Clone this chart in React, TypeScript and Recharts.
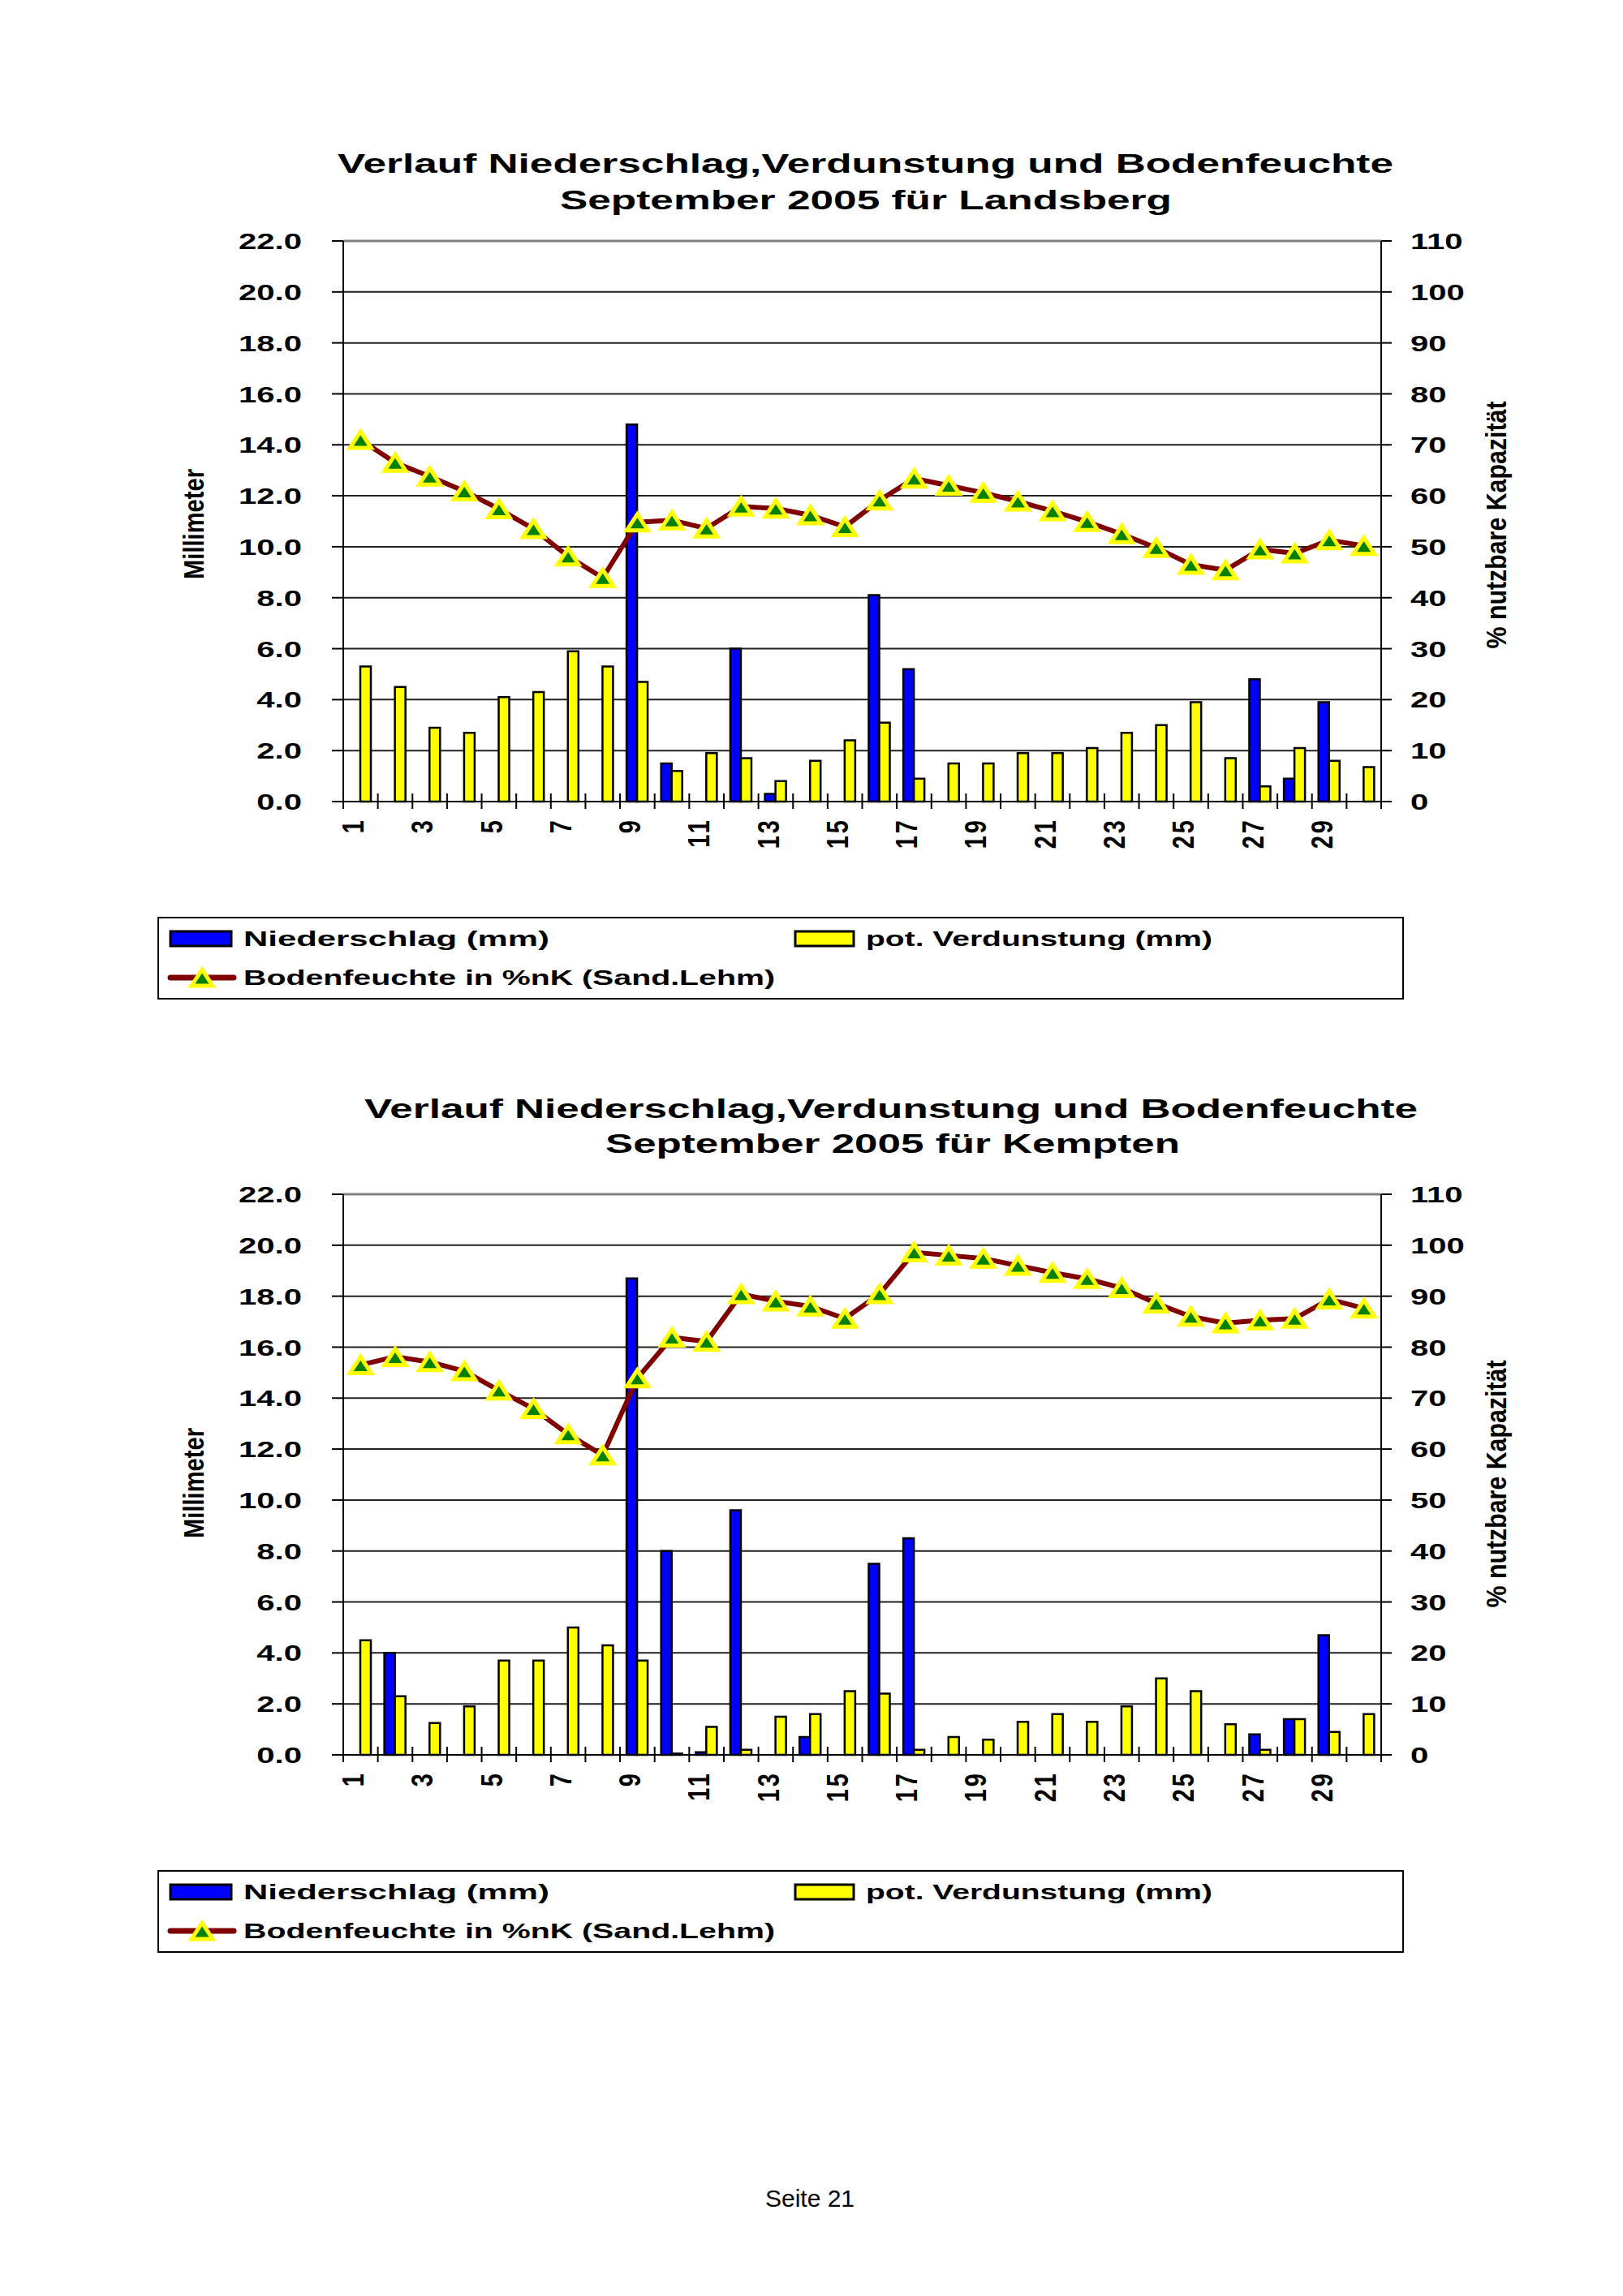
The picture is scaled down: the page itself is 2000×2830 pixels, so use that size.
import { ComposedChart, Bar, Line, XAxis, YAxis, CartesianGrid, ReferenceLine } from 'recharts';

// Tage im September 2005
const days = ['1', '2', '3', '4', '5', '6', '7', '8', '9', '10', '11', '12', '13', '14', '15',
  '16', '17', '18', '19', '20', '21', '22', '23', '24', '25', '26', '27', '28', '29', '30'];

// Landsberg
const niederschlagLandsberg = [0, 0, 0, 0, 0, 0, 0, 0, 14.8, 1.5, 0, 6.0, 0.3, 0, 0,
  8.1, 5.2, 0, 0, 0, 0, 0, 0, 0, 0, 0, 4.8, 0.9, 3.9, 0];
const verdunstungLandsberg = [5.3, 4.5, 2.9, 2.7, 4.1, 4.3, 5.9, 5.3, 4.7, 1.2, 1.9, 1.7, 0.8, 1.6, 2.4,
  3.1, 0.9, 1.5, 1.5, 1.9, 1.9, 2.1, 2.7, 3.0, 3.9, 1.7, 0.6, 2.1, 1.6, 1.35];
const bodenfeuchteLandsberg = [71.0, 66.5, 63.8, 60.9, 57.4, 53.5, 48.1, 43.9, 54.8, 55.2, 53.6, 57.9, 57.5, 56.2, 53.9,
  59.1, 63.4, 62.0, 60.6, 58.9, 57.0, 54.9, 52.5, 49.8, 46.5, 45.4, 49.5, 48.7, 51.3, 50.2];

// Kempten
const niederschlagKempten = [0, 4.0, 0, 0, 0, 0, 0, 0, 18.7, 8.0, 0.1, 9.6, 0, 0.7, 0,
  7.5, 8.5, 0, 0, 0, 0, 0, 0, 0, 0, 0, 0.8, 1.4, 4.7, 0];
const verdunstungKempten = [4.5, 2.3, 1.25, 1.9, 3.7, 3.7, 5.0, 4.3, 3.7, 0.05, 1.1, 0.2, 1.5, 1.6, 2.5,
  2.4, 0.2, 0.7, 0.6, 1.3, 1.6, 1.3, 1.9, 3.0, 2.5, 1.2, 0.2, 1.4, 0.9, 1.6];
const bodenfeuchteKempten = [76.5, 78.1, 77.1, 75.3, 71.5, 67.9, 62.9, 58.8, 73.9, 81.9, 81.1, 90.4, 89.0, 88.0, 85.6,
  90.4, 98.6, 98.0, 97.4, 96.0, 94.6, 93.4, 91.6, 88.6, 86.0, 84.7, 85.3, 85.6, 89.4, 87.6];

const mmTicks = [0, 2, 4, 6, 8, 10, 12, 14, 16, 18, 20, 22];
const pctTicks = [0, 10, 20, 30, 40, 50, 60, 70, 80, 90, 100, 110];

const SERIES = ['Niederschlag (mm)', 'pot. Verdunstung (mm)', 'Bodenfeuchte in %nK (Sand.Lehm)'];

const FONT = '"Liberation Sans", Arial, sans-serif';
const BLUE = '#0000ff';
const YELLOW = '#ffff00';
const BROWN = '#800000';
const GREEN = '#008000';

const CH_W = 2000;
const CH_H = 1100;
const PLOT_LEFT = 423;
const PLOT_RIGHT = 1702;
const PLOT_BOTTOM = 988;
const BAND = (PLOT_RIGHT - PLOT_LEFT) / days.length;
const SX = 1.43; // the original charts are stretched sideways

function XTick({ x, payload, index }: any) {
  const left = x - BAND / 2;
  const y = PLOT_BOTTOM;
  return (
    <g>
      <line x1={left} x2={left} y1={y - 10} y2={y + 9} stroke="#000" strokeWidth={2} />
      {index === days.length - 1 && (
        <line x1={x + BAND / 2} x2={x + BAND / 2} y1={y - 10} y2={y + 9} stroke="#000" strokeWidth={2} />
      )}
      {index % 2 === 0 && (
        <g transform={`translate(${left + 12},${y + 20}) scale(1.25,1) rotate(-90)`}>
          <text
            textAnchor="end"
            dy="0.36em"
            fontFamily={FONT}
            fontWeight="bold"
            fontSize={29}
            letterSpacing={3}
            fill="#000"
          >
            {payload.value}
          </text>
        </g>
      )}
    </g>
  );
}

function MmTick({ x, y, payload }: any) {
  return (
    <g transform={`translate(${x},${y})`}>
      <text transform={`scale(${SX},1)`} textAnchor="end" dy="0.36em" fontFamily={FONT} fontWeight="bold" fontSize={28} fill="#000">
        {Number(payload.value).toFixed(1)}
      </text>
    </g>
  );
}

function PctTick({ x, y, payload }: any) {
  return (
    <g transform={`translate(${x},${y})`}>
      <text transform={`scale(${SX},1)`} textAnchor="start" dy="0.36em" fontFamily={FONT} fontWeight="bold" fontSize={28} fill="#000">
        {payload.value}
      </text>
    </g>
  );
}

function Tri({ cx, cy }: { cx: number; cy: number }) {
  return (
    <polygon
      points={`${cx},${cy - 10} ${cx + 13},${cy + 10} ${cx - 13},${cy + 10}`}
      fill={GREEN}
      stroke={YELLOW}
      strokeWidth={5}
    />
  );
}

function SoilChart({ top, precip, evap, soil }: any) {
  const data = days.map((d, i) => ({ day: d, precip: precip[i], evap: evap[i], soil: soil[i] }));
  return (
    <div style={{ position: 'absolute', left: 0, top, width: CH_W, height: CH_H }}>
      <ComposedChart
        width={CH_W}
        height={CH_H}
        data={data}
        margin={{ top: 297, right: 198, bottom: 52, left: 323 }}
        barGap={0}
      >
        <CartesianGrid yAxisId="mm" vertical={false} stroke="#222" strokeWidth={2} />
        <XAxis
          dataKey="day"
          interval={0}
          height={60}
          tickLine={false}
          tickSize={0}
          tickMargin={0}
          axisLine={{ stroke: '#000', strokeWidth: 2 }}
          tick={<XTick />}
        />
        <YAxis
          yAxisId="mm"
          orientation="left"
          width={100}
          domain={[0, 22]}
          ticks={mmTicks}
          interval={0}
          tickSize={14}
          tickMargin={37}
          axisLine={{ stroke: '#000', strokeWidth: 2 }}
          tickLine={{ stroke: '#000', strokeWidth: 2 }}
          tick={<MmTick />}
        />
        <YAxis
          yAxisId="pct"
          orientation="right"
          width={100}
          domain={[0, 110]}
          ticks={pctTicks}
          interval={0}
          tickSize={13}
          tickMargin={23}
          axisLine={{ stroke: '#000', strokeWidth: 2 }}
          tickLine={{ stroke: '#000', strokeWidth: 2 }}
          tick={<PctTick />}
        />
        <ReferenceLine yAxisId="mm" y={22} stroke="#808080" strokeWidth={3} />
        <Bar yAxisId="mm" dataKey="precip" name={SERIES[0]} barSize={13} fill={BLUE} stroke="#000" strokeWidth={2.5} isAnimationActive={false} />
        <Bar yAxisId="mm" dataKey="evap" name={SERIES[1]} barSize={13} fill={YELLOW} stroke="#000" strokeWidth={2.5} isAnimationActive={false} />
        <Line
          yAxisId="pct"
          dataKey="soil"
          name={SERIES[2]}
          type="linear"
          stroke={BROWN}
          strokeWidth={6}
          dot={(p: any) => <Tri key={`d${p.index}`} cx={p.cx} cy={p.cy} />}
          activeDot={false}
          isAnimationActive={false}
        />
      </ComposedChart>
    </div>
  );
}

function FitText({ x, y, len, size, children, weight = 'bold' }: any) {
  return (
    <text x={x} y={y} textLength={len} lengthAdjust="spacingAndGlyphs" fontFamily={FONT} fontWeight={weight} fontSize={size} fill="#000">
      {children}
    </text>
  );
}

function AxisTitle({ cx, cy, len, children }: any) {
  return (
    <g transform={`translate(${cx},${cy}) scale(${SX},1) rotate(-90)`}>
      <text x={-len / 2} y={0} dy="0.36em" textLength={len} lengthAdjust="spacingAndGlyphs" fontFamily={FONT} fontWeight="bold" fontSize={25} fill="#000">
        {children}
      </text>
    </g>
  );
}

function LegendBox({ dy }: { dy: number }) {
  const r1 = 1157 + dy;
  const r2 = 1205 + dy;
  return (
    <g>
      <rect x={195} y={1131 + dy} width={1534} height={100} fill="#fff" stroke="#000" strokeWidth={2} />
      <rect x={210} y={r1 - 9} width={75} height={18} fill={BLUE} stroke="#000" strokeWidth={3} />
      <FitText x={300} y={r1 + 9} len={377} size={25}>{SERIES[0]}</FitText>
      <rect x={980} y={r1 - 9} width={72} height={18} fill={YELLOW} stroke="#000" strokeWidth={3} />
      <FitText x={1067} y={r1 + 9} len={427} size={25}>{SERIES[1]}</FitText>
      <line x1={210} x2={288} y1={r2} y2={r2} stroke={BROWN} strokeWidth={7} strokeLinecap="round" />
      <Tri cx={249} cy={r2} />
      <FitText x={300} y={r2 + 9} len={655} size={25}>{SERIES[2]}</FitText>
    </g>
  );
}

export default function App() {
  return (
    <div style={{ position: 'relative', width: 2000, height: 2830, margin: -8, background: '#fff' }}>
      <SoilChart top={0} precip={niederschlagLandsberg} evap={verdunstungLandsberg} soil={bodenfeuchteLandsberg} />
      <SoilChart top={1175} precip={niederschlagKempten} evap={verdunstungKempten} soil={bodenfeuchteKempten} />
      <svg width={2000} height={2830} style={{ position: 'absolute', left: 0, top: 0, pointerEvents: 'none' }}>
        <FitText x={416} y={213} len={1301} size={34}>Verlauf Niederschlag,Verdunstung und Bodenfeuchte</FitText>
        <FitText x={690} y={258} len={754} size={34}>September 2005 für Landsberg</FitText>
        <AxisTitle cx={238} cy={646} len={136}>Millimeter</AxisTitle>
        <AxisTitle cx={1843} cy={647} len={305}>% nutzbare Kapazität</AxisTitle>
        <LegendBox dy={0} />

        <FitText x={449} y={1378} len={1298} size={34}>Verlauf Niederschlag,Verdunstung und Bodenfeuchte</FitText>
        <FitText x={746} y={1421} len={708} size={34}>September 2005 für Kempten</FitText>
        <AxisTitle cx={238} cy={1828} len={136}>Millimeter</AxisTitle>
        <AxisTitle cx={1843} cy={1829} len={305}>% nutzbare Kapazität</AxisTitle>
        <LegendBox dy={1175} />

        <text x={998} y={2720} textAnchor="middle" fontFamily={FONT} fontSize={30} fill="#000">Seite 21</text>
      </svg>
    </div>
  );
}
